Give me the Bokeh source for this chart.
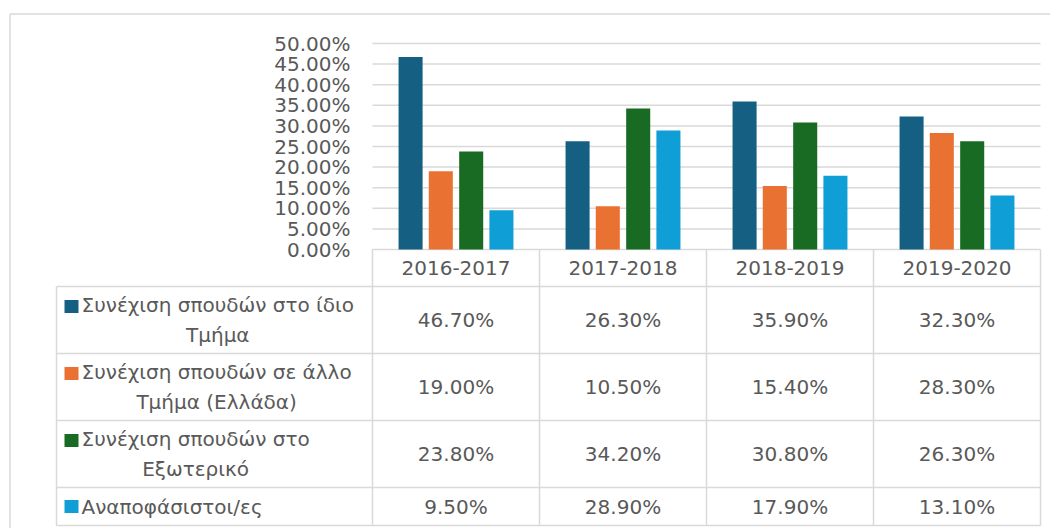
from bokeh.plotting import figure
from bokeh.models import Range1d, ColumnDataSource, Grid
from bokeh.core.properties import value
from bokeh.embed import file_html
from bokeh.resources import INLINE

# ---------------- data ----------------
years = ["2016-2017", "2017-2018", "2018-2019", "2019-2020"]
series_labels = [
    "Συνέχιση σπουδών στο ίδιο\nΤμήμα",
    "Συνέχιση σπουδών σε άλλο\nΤμήμα (Ελλάδα)",
    "Συνέχιση σπουδών στο\nΕξωτερικό",
    "Αναποφάσιστοι/ες",
]
same_dept = [0.467, 0.263, 0.359, 0.323]
other_dept_greece = [0.190, 0.105, 0.154, 0.283]
abroad = [0.238, 0.342, 0.308, 0.263]
undecided = [0.095, 0.289, 0.179, 0.131]
y_ticks = [0.0, 0.05, 0.10, 0.15, 0.20, 0.25, 0.30, 0.35, 0.40, 0.45, 0.50]
y_tick_labels = [f"{t * 100:.2f}%" for t in y_ticks]

series_values = [same_dept, other_dept_greece, abroad, undecided]
colors = ["#156082", "#E97132", "#196B24", "#0F9ED5"]

FONT = "DejaVu Sans"
TEXT = "#595959"
GRID = "#D9D9D9"

# ---------------- layout constants (page pixels) ----------------
PAGE_L, PAGE_T, W, H = 0, 0, 1050, 528
FRAME_L, FRAME_R = 372, 1040          # plot area / table value columns
PLOT_TOP, PLOT_ZERO = 43, 249          # 50% and 0% lines
COL_W = (FRAME_R - FRAME_L) / len(years)
LABEL_L = 56
HEADER_BOTTOM = 286
ROW_H_2LINE, ROW_H_1LINE = 67, 38
LINE_PX = 27
FS = "20px"

u = 0.5 / (PLOT_ZERO - PLOT_TOP)      # value per pixel

p = figure(width=W, height=H,
           x_range=Range1d(PAGE_L, PAGE_L + W),
           y_range=Range1d(PAGE_T + H, PAGE_T),
           output_backend="svg", toolbar_location=None,
           x_axis_location=None, y_axis_location=None, min_border=0)
p.min_border_left = p.min_border_right = p.min_border_top = p.min_border_bottom = 0
p.outline_line_color = None
p.background_fill_color = "white"
p.border_fill_color = "white"
for g in p.select(type=Grid):
    g.visible = False

# scales for the chart values: group index on x, percentage on y
p.extra_x_ranges = {"grp": Range1d((PAGE_L - FRAME_L) / COL_W - 0.5,
                                   (PAGE_L + W - FRAME_L) / COL_W - 0.5)}
p.extra_y_ranges = {"pct": Range1d((PLOT_ZERO - (PAGE_T + H)) * u,
                                   (PLOT_ZERO - PAGE_T) * u)}

# outer chart-area border (top and left edges visible)
p.segment(x0=[9.5, 9.5], y0=[13.5, 13.5], x1=[9.5, PAGE_L + W + 10],
          y1=[PAGE_T + H + 10, 13.5], line_color=GRID, line_width=1.5)

# gridlines and tick labels
n = len(years)
p.segment(x0=[-0.5] * len(y_ticks), x1=[n - 0.5] * len(y_ticks), y0=y_ticks, y1=y_ticks,
          x_range_name="grp", y_range_name="pct", line_color=GRID, line_width=1.5)
p.text(x=[-0.5] * len(y_ticks), y=y_ticks, text=y_tick_labels,
       x_offset=-22, text_align="right", text_baseline="middle",
       x_range_name="grp", y_range_name="pct",
       text_font=value(FONT), text_font_size=FS, text_color=TEXT)

# bars
offsets = [-0.272, -0.091, 0.091, 0.272]
bar_w = 0.144
idx = list(range(n))
for vals, col, off in zip(series_values, colors, offsets):
    src = ColumnDataSource(dict(x=[i + off for i in idx], v=vals))
    p.vbar(x="x", top="v", bottom=0, width=bar_w, source=src,
           x_range_name="grp", y_range_name="pct",
           fill_color=col, line_color=None)

# ---------------- data table ----------------
n_lines = [s.count("\n") + 1 for s in series_labels]
row_h = [ROW_H_2LINE if k > 1 else ROW_H_1LINE for k in n_lines]
row_edges = [HEADER_BOTTOM]
for h in row_h:
    row_edges.append(row_edges[-1] + h)
row_centers = [(a + b) / 2 for a, b in zip(row_edges[:-1], row_edges[1:])]
col_edges = [FRAME_L + i * COL_W for i in range(n + 1)]
col_centers = [(a + b) / 2 for a, b in zip(col_edges[:-1], col_edges[1:])]

x0, y0, x1, y1 = [], [], [], []
for ce in col_edges:
    x0.append(ce); x1.append(ce); y0.append(PLOT_ZERO); y1.append(row_edges[-1])
x0.append(LABEL_L); x1.append(LABEL_L); y0.append(HEADER_BOTTOM); y1.append(row_edges[-1])
for re in row_edges:
    x0.append(LABEL_L); x1.append(FRAME_R); y0.append(re); y1.append(re)
p.segment(x0=x0, y0=y0, x1=x1, y1=y1, line_color=GRID, line_width=1.5)

# header (categories)
p.text(x=col_centers, y=[(PLOT_ZERO + HEADER_BOTTOM) / 2] * n, text=years,
       text_align="center", text_baseline="middle",
       text_font=value(FONT), text_font_size=FS, text_color=TEXT)

# series labels with legend keys
key_y = [c - (k - 1) * LINE_PX / 2 for c, k in zip(row_centers, n_lines)]
p.rect(x=[71] * len(series_labels), y=key_y, width=14, height=13,
       fill_color=colors, line_color=None)
p.text(x=[81] * len(series_labels), y=row_centers, text=series_labels,
       anchor="center_left", text_align="center", text_baseline="middle",
       text_line_height=1.25,
       text_font=value(FONT), text_font_size=FS, text_color=TEXT)

# values
vx, vy, vt = [], [], []
for r, vals in enumerate(series_values):
    for c, v in enumerate(vals):
        vx.append(col_centers[c]); vy.append(row_centers[r]); vt.append(f"{v * 100:.2f}%")
p.text(x=vx, y=vy, text=vt, text_align="center", text_baseline="middle",
       text_font=value(FONT), text_font_size=FS, text_color=TEXT)

open("out.html", "w").write(file_html(p, INLINE))
